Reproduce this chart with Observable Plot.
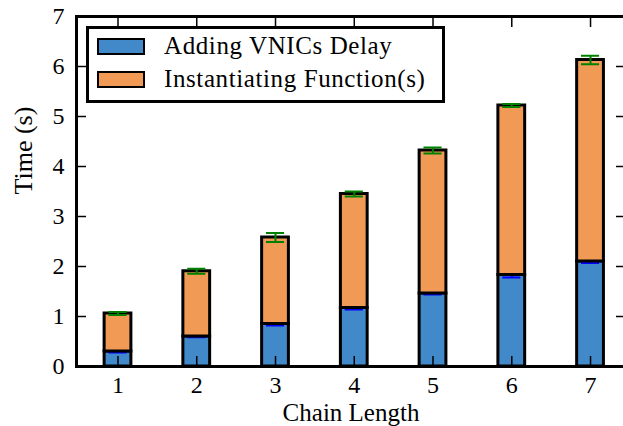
<!DOCTYPE html>
<html><head><meta charset="utf-8">
<script src="https://cdn.jsdelivr.net/npm/d3@7"></script>
<script src="https://cdn.jsdelivr.net/npm/@observablehq/plot@0.6"></script>
<style>
html,body{margin:0;padding:0;background:#fff;overflow:hidden;}
#wrap{position:relative;width:623px;height:426px;overflow:hidden;}
#legend{position:absolute;left:86px;top:26px;width:353px;height:71px;border:3px solid #000;background:#fff;font-family:"Liberation Serif",serif;font-size:25px;letter-spacing:0.6px;color:#000;}
.item{position:absolute;left:0;height:20px;}
.patch{position:absolute;left:8px;width:44px;height:13px;border:2.5px solid #000;}
.lab{position:absolute;left:75px;top:-7px;white-space:nowrap;line-height:30px;}
</style></head><body><div id="wrap"></div>
<script>
const chainLength = [1, 2, 3, 4, 5, 6, 7];
const vnicDelay = [0.30, 0.60, 0.85, 1.17, 1.46, 1.83, 2.10];
const vnicErr   = [0.02, 0.015, 0.03, 0.03, 0.02, 0.05, 0.03];
const totalTime = [1.06, 1.905, 2.58, 3.45, 4.32, 5.22, 6.13];
const totalErr  = [0.03, 0.05, 0.09, 0.05, 0.06, 0.03, 0.085];
const xTicks = [1, 2, 3, 4, 5, 6, 7];
const yTicks = [0, 1, 2, 3, 4, 5, 6, 7];
const seriesNames = ["Adding VNICs Delay", "Instantiating Function(s)"];
const seriesColors = ["#4189c9", "#f19a55"];
const xLabel = "Chain Length";
const yLabel = "Time (s)";

const rows = chainLength.map((c, i) => ({c, v: vnicDelay[i], ve: vnicErr[i], t: totalTime[i], te: totalErr[i]}));
const halfBar = 0.17, halfCap = 0.115;
const font = "'Liberation Serif', serif";

function errBars(getY, getE, color) {
  return [
    Plot.ruleX(rows, {x: "c", y1: d => getY(d) - getE(d), y2: d => getY(d) + getE(d), stroke: color, strokeWidth: 2}),
    Plot.ruleY(rows, {y: d => getY(d) - getE(d), x1: d => d.c - halfCap, x2: d => d.c + halfCap, stroke: color, strokeWidth: 2}),
    Plot.ruleY(rows, {y: d => getY(d) + getE(d), x1: d => d.c - halfCap, x2: d => d.c + halfCap, stroke: color, strokeWidth: 2})
  ];
}

const chart = Plot.plot({
  width: 623, height: 426,
  marginLeft: 76, marginRight: -2, marginTop: 16, marginBottom: 60,
  style: {fontFamily: font, background: "white", overflow: "visible"},
  x: {domain: [0.473, 7.444], axis: null},
  y: {domain: [0, 7], axis: null},
  marks: [
    Plot.rect(rows, {x1: d => d.c - halfBar, x2: d => d.c + halfBar, y1: () => 0, y2: "v", fill: seriesColors[0], stroke: "black", strokeWidth: 3}),
    ...errBars(d => d.v, d => d.ve, "#0000ff"),
    Plot.rect(rows, {x1: d => d.c - halfBar, x2: d => d.c + halfBar, y1: "v", y2: "t", fill: seriesColors[1], stroke: "black", strokeWidth: 3}),
    ...errBars(d => d.t, d => d.te, "#008000"),
    Plot.axisX(xTicks, {anchor: "bottom", tickSize: -10, tickFormat: () => "", strokeWidth: 1.5, label: null}),
    Plot.axisX(xTicks, {anchor: "top", tickSize: -10, tickFormat: () => "", strokeWidth: 1.5, label: null}),
    Plot.axisY(yTicks, {anchor: "left", tickSize: -10, tickFormat: () => "", strokeWidth: 1.5, label: null}),
    Plot.axisY(yTicks, {anchor: "right", tickSize: -10, tickFormat: () => "", strokeWidth: 1.5, label: null}),
    Plot.text(xTicks, {x: d => d, text: d => String(d), frameAnchor: "bottom", dy: 26, lineAnchor: "bottom", fontSize: 24, fill: "black"}),
    Plot.text(yTicks, {y: d => d, text: d => String(d), frameAnchor: "left", dx: -12, textAnchor: "end", lineAnchor: "middle", fontSize: 24, fill: "black"}),
    Plot.frame({stroke: "black", strokeWidth: 3}),
    Plot.text([xLabel], {frameAnchor: "bottom", dy: 54, lineAnchor: "bottom", fontSize: 25, fill: "black"}),
    Plot.text([yLabel], {frameAnchor: "left", dx: -53, dy: 3, rotate: -90, fontSize: 26, fill: "black"})
  ]
});
const wrap = document.getElementById("wrap");
wrap.appendChild(chart);

const legend = document.createElement("div");
legend.id = "legend";
seriesNames.forEach((name, i) => {
  const item = document.createElement("div");
  item.className = "item";
  item.style.top = (9 + i * 33) + "px";
  const patch = document.createElement("div");
  patch.className = "patch";
  patch.style.background = seriesColors[i];
  const lab = document.createElement("div");
  lab.className = "lab";
  lab.textContent = name;
  item.appendChild(patch);
  item.appendChild(lab);
  legend.appendChild(item);
});
wrap.appendChild(legend);
</script></body></html>
